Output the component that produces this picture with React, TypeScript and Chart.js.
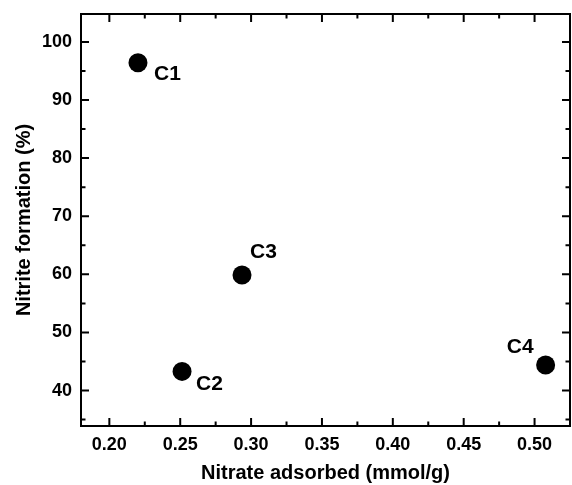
import React, { useEffect, useRef } from "react";
import { Chart, registerables } from "chart.js";

Chart.register(...registerables);

const sampleNames = ["C1", "C2", "C3", "C4"];
const nitrateAdsorbed = [0.2202, 0.2513, 0.2936, 0.5078];
const nitriteFormation = [96.4, 43.3, 59.9, 44.4];
const xTickValues = [0.2, 0.25, 0.3, 0.35, 0.4, 0.45, 0.5];
const xMinorValues = [0.225, 0.275, 0.325, 0.375, 0.425, 0.475, 0.525];
const yTickValues = [40, 50, 60, 70, 80, 90, 100];
const yMinorValues = [35, 45, 55, 65, 75, 85, 95];

// label offsets relative to point centre (dx, dy, align)
const labelOffsets: [number, number, CanvasTextAlign][] = [
  [16, 11, "left"],
  [14, 13, "left"],
  [8, -23, "left"],
  [-12, -18, "right"],
];

const FONT = "Arial, 'Liberation Sans', sans-serif";

const framePlugin = {
  id: "frameTicks",
  afterDraw(chart: any) {
    const { ctx, chartArea } = chart;
    const { left, right, top, bottom } = chartArea;
    const xs = chart.scales.x;
    const ys = chart.scales.y;
    ctx.save();
    ctx.strokeStyle = "#000";
    ctx.lineWidth = 2;
    ctx.strokeRect(left, top, right - left, bottom - top);
    const major = 8;
    const minor = 4.5;
    ctx.beginPath();
    const hx = (vals: number[], len: number) => {
      vals.forEach((v) => {
        const px = xs.getPixelForValue(v);
        if (px < left - 0.5 || px > right + 0.5) return;
        ctx.moveTo(px, bottom);
        ctx.lineTo(px, bottom - len);
        ctx.moveTo(px, top);
        ctx.lineTo(px, top + len);
      });
    };
    const vy = (vals: number[], len: number) => {
      vals.forEach((v) => {
        const py = ys.getPixelForValue(v);
        if (py < top - 0.5 || py > bottom + 0.5) return;
        ctx.moveTo(left, py);
        ctx.lineTo(left + len, py);
        ctx.moveTo(right, py);
        ctx.lineTo(right - len, py);
      });
    };
    hx(xTickValues, major);
    hx(xMinorValues, minor);
    vy(yTickValues, major);
    vy(yMinorValues, minor);
    ctx.stroke();

    // point labels
    ctx.fillStyle = "#000";
    ctx.font = "bold 21px " + FONT;
    ctx.textBaseline = "middle";
    sampleNames.forEach((name, i) => {
      const px = xs.getPixelForValue(nitrateAdsorbed[i]);
      const py = ys.getPixelForValue(nitriteFormation[i]);
      const [dx, dy, align] = labelOffsets[i];
      ctx.textAlign = align;
      ctx.fillText(name, px + dx, py + dy);
    });
    ctx.restore();
  },
};

const zeroPad = (s: any) => {
  s.paddingTop = 0;
  s.paddingBottom = 0;
  s.paddingLeft = 0;
  s.paddingRight = 0;
};

export default function App() {
  const canvasRef = useRef<HTMLCanvasElement | null>(null);

  useEffect(() => {
    if (!canvasRef.current) return;
    const chart = new Chart(canvasRef.current, {
      type: "scatter",
      data: {
        datasets: [
          {
            data: nitrateAdsorbed.map((x, i) => ({ x, y: nitriteFormation[i] })),
            backgroundColor: "#000",
            borderColor: "#000",
            borderWidth: 0,
            pointRadius: 9.5,
            pointHoverRadius: 9.5,
          },
        ],
      },
      options: {
        animation: false,
        responsive: false,
        maintainAspectRatio: false,
        layout: { autoPadding: false, padding: { top: 14, right: 2, left: 0, bottom: 0 } },
        plugins: {
          legend: { display: false },
          tooltip: { enabled: false },
        },
        scales: {
          x: {
            type: "linear",
            min: 0.18,
            max: 0.525,
            grid: { display: false, drawTicks: false },
            border: { display: false },
            afterFit: (s: any) => {
              s.height = 59;
              zeroPad(s);
            },
            afterBuildTicks: (s: any) => {
              s.ticks = xTickValues.map((v) => ({ value: v }));
            },
            ticks: {
              padding: 8,
              color: "#000",
              font: { family: FONT, size: 18, weight: "bold" },
              callback: (v: any) => Number(v).toFixed(2),
              maxRotation: 0,
            },
            title: {
              display: true,
              text: "Nitrate adsorbed (mmol/g)",
              color: "#000",
              font: { family: FONT, size: 20, weight: "bold" },
              padding: { top: 3, bottom: 0 },
            },
          },
          y: {
            type: "linear",
            min: 33.9,
            max: 104.8,
            grid: { display: false, drawTicks: false },
            border: { display: false },
            afterFit: (s: any) => {
              s.width = 81;
              zeroPad(s);
            },
            afterBuildTicks: (s: any) => {
              s.ticks = yTickValues.map((v) => ({ value: v }));
            },
            ticks: {
              padding: 9,
              color: "#000",
              font: { family: FONT, size: 18, weight: "bold" },
              callback: (v: any) => String(v),
            },
            title: {
              display: true,
              text: "Nitrite formation (%)",
              color: "#000",
              font: { family: FONT, size: 20, weight: "bold" },
              padding: { top: 12, bottom: 0 },
            },
          },
        },
      },
      plugins: [framePlugin],
    });
    return () => chart.destroy();
  }, []);

  return (
    <div style={{ position: "fixed", left: 0, top: 0, width: 572, height: 485, background: "#fff" }}>
      <canvas ref={canvasRef} width={572} height={485} style={{ display: "block" }} />
    </div>
  );
}
